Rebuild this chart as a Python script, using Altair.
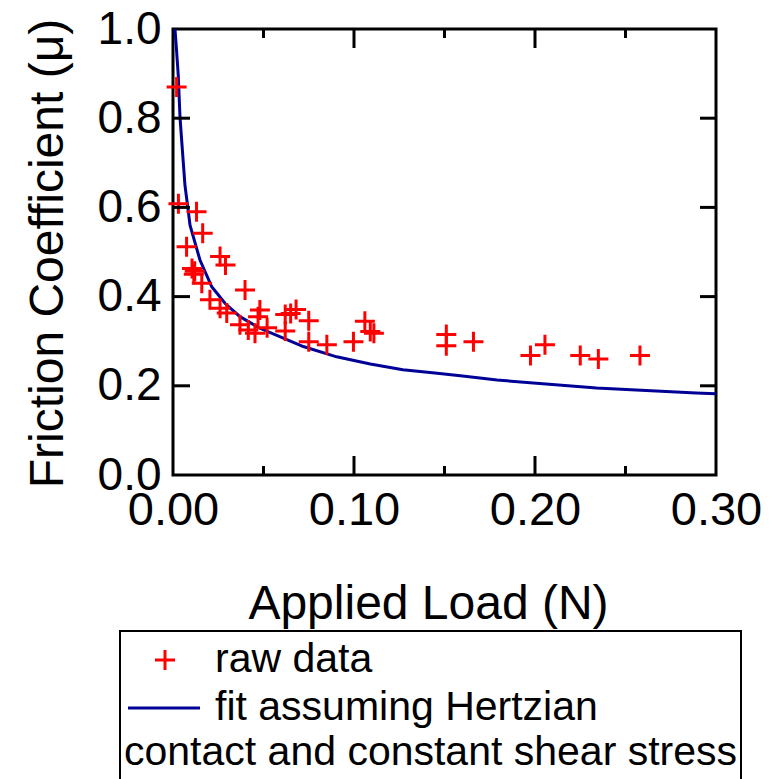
import altair as alt
import pandas as pd

# ---- data ----
load_raw = [0.002, 0.003, 0.013, 0.0164, 0.0075, 0.0105, 0.012, 0.0115, 0.026, 0.029,
            0.0159, 0.0204, 0.026, 0.0297, 0.0398, 0.037, 0.0416, 0.0453, 0.048, 0.047,
            0.052, 0.062, 0.062, 0.065, 0.068, 0.075, 0.075, 0.085, 0.0997, 0.106,
            0.109, 0.111, 0.151, 0.151, 0.166, 0.1975, 0.2055, 0.225, 0.235, 0.258]
mu_raw = [0.870, 0.608, 0.590, 0.542, 0.512, 0.463, 0.457, 0.450, 0.490, 0.471,
          0.430, 0.393, 0.374, 0.363, 0.415, 0.337, 0.325, 0.318, 0.370, 0.355,
          0.330, 0.323, 0.360, 0.362, 0.371, 0.346, 0.299, 0.292, 0.299, 0.345,
          0.322, 0.318, 0.315, 0.290, 0.299, 0.268, 0.292, 0.268, 0.260, 0.268]

load_fit = [0.0011, 0.002, 0.0029, 0.0039, 0.0057, 0.0066, 0.0085, 0.0094, 0.0149, 0.0214,
            0.0287, 0.037, 0.048, 0.059, 0.072, 0.0904, 0.109, 0.127, 0.146, 0.160,
            0.179, 0.234, 0.289, 0.300]
mu_fit = [1.0, 0.95, 0.896, 0.80, 0.70, 0.65, 0.59, 0.56, 0.482, 0.422,
          0.385, 0.355, 0.329, 0.310, 0.288, 0.265, 0.249, 0.236, 0.228, 0.222,
          0.213, 0.195, 0.184, 0.182]

x_ticks_major = [0.10, 0.20]
x_ticks_minor = [0.05, 0.15, 0.25]
y_ticks = [0.2, 0.4, 0.6, 0.8]
x_label_values = [0.0, 0.1, 0.2, 0.3]
y_label_values = [0.0, 0.2, 0.4, 0.6, 0.8, 1.0]

legend_raw = "raw data"
legend_fit = "fit assuming Hertzian"
legend_fit2 = "contact and constant shear stress"
x_title = "Applied Load (N)"
y_title = "Friction Coefficient (\u03bc)"

# ---- layout ----
W, H = 543, 446
FONT = "Liberation Sans"
RED = "#ff0000"
BLUE = "#000096"
PLUS = "M-1,0L1,0M0,-1L0,1"

raw_df = pd.DataFrame({"load": load_raw, "mu": mu_raw})
fit_df = pd.DataFrame({"load": load_fit, "mu": mu_fit})

xscale = alt.Scale(domain=[0, 0.3], nice=False, zero=False)
yscale = alt.Scale(domain=[0, 1.0], nice=False, zero=False)

xaxis = alt.Axis(values=x_label_values, format=".2f", ticks=False, domain=False, grid=False,
                 labelFontSize=47, labelFont=FONT, labelColor="black", labelPadding=12,
                 labelFlush=False, labelOverlap=False,
                 title=x_title, titleFont=FONT, titleFontSize=48, titleFontWeight="normal",
                 titleColor="black", titleX=255, titleY=143, titleBaseline="alphabetic",
                 titleAlign="center", titleAnchor="start")
yaxis = alt.Axis(values=y_label_values, format=".1f", ticks=False, domain=False, grid=False,
                 labelFontSize=46, labelFont=FONT, labelColor="black", labelPadding=12,
                 labelFlush=False, labelOverlap=False,
                 title=y_title, titleFont=FONT, titleFontSize=48, titleFontWeight="normal",
                 titleColor="black", titleX=-111, titleY=224, titleAngle=270,
                 titleBaseline="alphabetic", titleAlign="center", titleAnchor="start")

fit = alt.Chart(fit_df).mark_line(color=BLUE, strokeWidth=3).encode(
    x=alt.X("load:Q", scale=xscale, axis=xaxis),
    y=alt.Y("mu:Q", scale=yscale, axis=yaxis),
)
raw = alt.Chart(raw_df).mark_point(shape=PLUS, filled=False, color=RED, strokeWidth=3,
                                   size=400, opacity=1).encode(
    x=alt.X("load:Q", scale=xscale, axis=xaxis),
    y=alt.Y("mu:Q", scale=yscale, axis=yaxis),
)

def xtick_layer(vals, y0, y1):
    return alt.Chart(pd.DataFrame({"load": vals})).mark_rule(color="black", strokeWidth=3).encode(
        x=alt.X("load:Q", scale=xscale, axis=xaxis),
        y=alt.value(y0), y2=alt.value(y1))

def ytick_layer(vals, x0, x1):
    return alt.Chart(pd.DataFrame({"mu": vals})).mark_rule(color="black", strokeWidth=3).encode(
        y=alt.Y("mu:Q", scale=yscale, axis=yaxis),
        x=alt.value(x0), x2=alt.value(x1))

ticks = [
    xtick_layer(x_ticks_major, H, H - 19),
    xtick_layer(x_ticks_minor, H, H - 9),
    xtick_layer(x_ticks_major, 0, 19),
    xtick_layer(x_ticks_minor, 0, 9),
    ytick_layer(y_ticks, 0, 17),
    ytick_layer(y_ticks, W, W - 16),
]

one = alt.Data(values=[{"k": 0}])
leg_box = alt.Chart(one).mark_rect(fill="white", stroke="black", strokeWidth=2).encode(
    x=alt.value(-53), x2=alt.value(568), y=alt.value(602), y2=alt.value(780))
leg_plus = alt.Chart(one).mark_point(shape=PLUS, filled=False, color=RED, strokeWidth=3,
                                     size=400, opacity=1).encode(
    x=alt.value(-8), y=alt.value(631))
leg_line = alt.Chart(one).mark_rule(color=BLUE, strokeWidth=3).encode(
    x=alt.value(-45), x2=alt.value(27), y=alt.value(679))

def leg_text(s, x, y):
    return alt.Chart(alt.Data(values=[{"s": s}])).mark_text(
        align="left", baseline="alphabetic", font=FONT, fontSize=41, color="black").encode(
        x=alt.value(x), y=alt.value(y), text="s:N")

chart = alt.layer(
    fit, raw, *ticks,
    leg_box, leg_plus, leg_line,
    leg_text(legend_raw, 42, 643),
    leg_text(legend_fit, 42, 691),
    leg_text(legend_fit2, -49, 736),
).properties(
    width=W, height=H,
    background="white",
    autosize=alt.AutoSizeParams(type="none"),
    padding={"left": 173, "top": 29, "right": 57, "bottom": 304},
).configure_view(stroke="black", strokeWidth=3)

chart.save("out.html", embed_options={"renderer": "svg", "actions": False})
